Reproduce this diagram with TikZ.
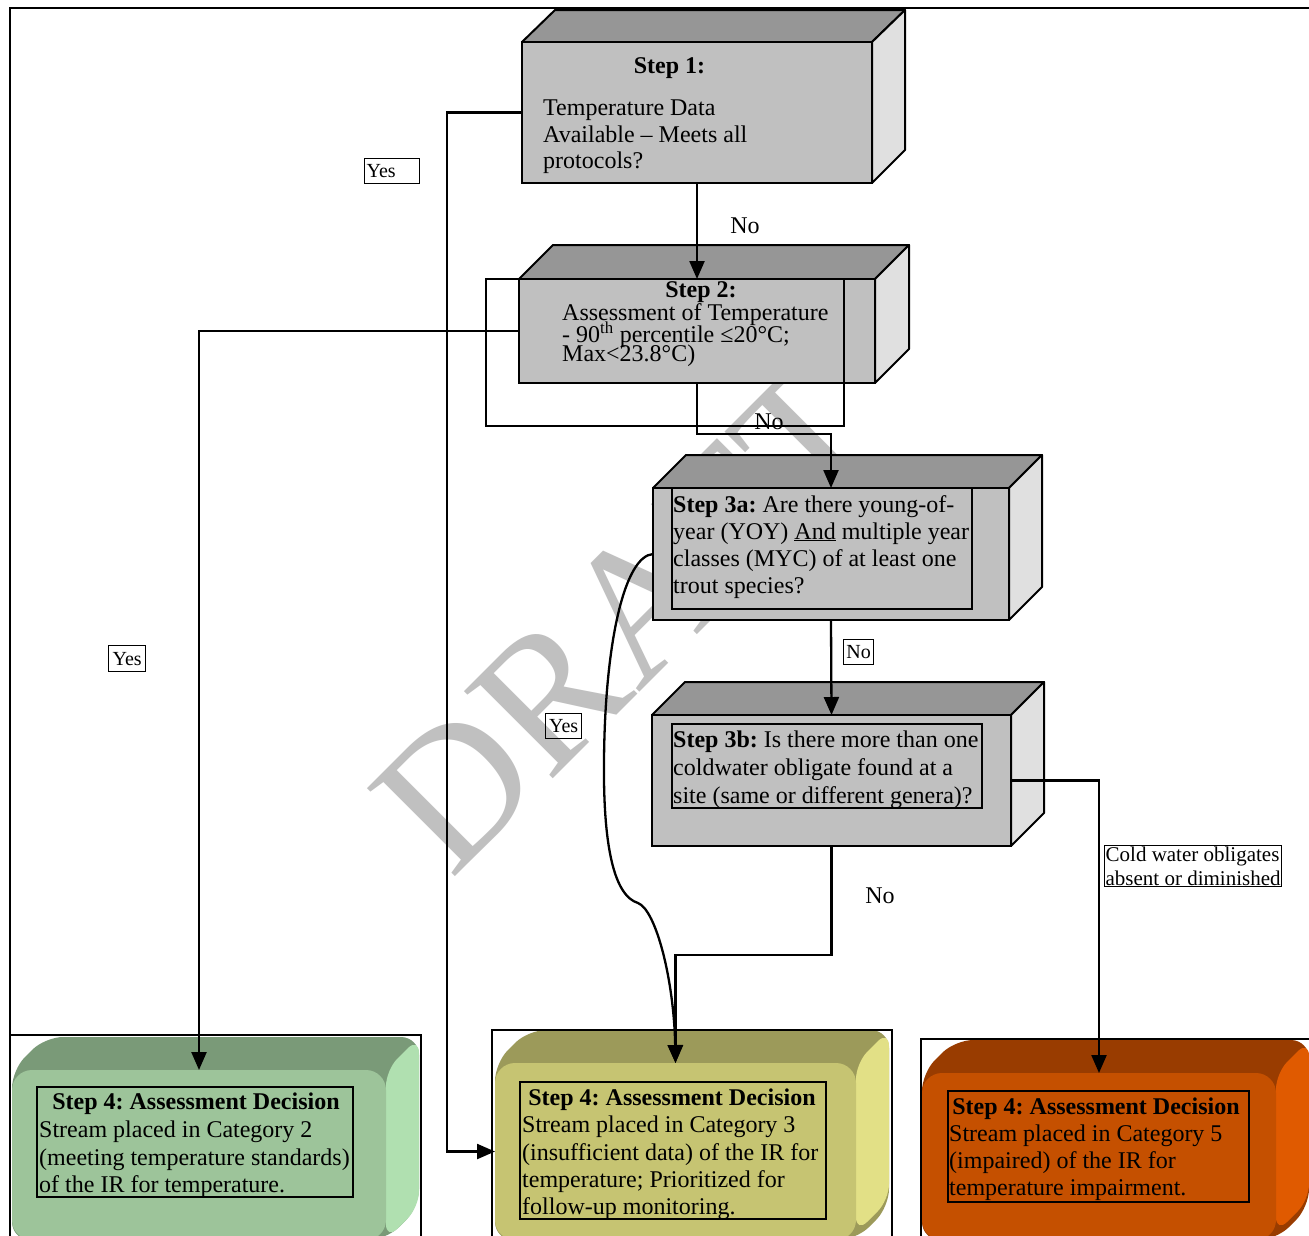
\documentclass[tikz,border=0pt]{standalone}
\usepackage{fontspec}
\setmainfont{Liberation Serif}
\usetikzlibrary{arrows.meta}
\frenchspacing
\definecolor{frontg}{RGB}{192,192,192}
\definecolor{topg}{RGB}{150,150,150}
\definecolor{sideg}{RGB}{224,224,224}
\definecolor{gfront}{RGB}{157,196,154}
\definecolor{gtop}{RGB}{122,154,120}
\definecolor{gside}{RGB}{176,224,176}
\definecolor{yfront}{RGB}{198,196,114}
\definecolor{ytop}{RGB}{156,154,90}
\definecolor{yside}{RGB}{226,224,134}
\definecolor{ofront}{RGB}{197,80,0}
\definecolor{otop}{RGB}{153,60,0}
\definecolor{oside}{RGB}{224,90,0}
\definecolor{wmark}{RGB}{192,192,192}
\begin{document}
\frenchspacing
\begin{tikzpicture}[x=1pt,y=-1pt,
  txt/.style={font=\fontsize{24}{27}\selectfont, inner sep=0pt, anchor=base west},
  ttl/.style={font=\fontsize{24}{27}\selectfont\bfseries, inner sep=0pt, anchor=base},
  face/.style={draw=black, line width=2pt, line join=round},
  frontbox/.style={draw=black, fill=frontg, line width=2.8pt, inner sep=0pt, outer sep=0pt},
  roundfront/.style={rounded corners=20pt, inner sep=0pt, outer sep=0pt},
  conn/.style={draw=black, line width=2.3pt},
  arr/.style={conn, -{Triangle[length=18pt,width=15pt]}},
  lblbox/.style={draw=black, line width=1.3pt, font=\fontsize{20}{24}\selectfont, inner sep=1pt, anchor=north west},
  thinbox/.style={draw=black, line width=1.3pt},
  nolbl/.style={font=\fontsize{24}{27}\selectfont, inner sep=0pt},
]
\clip (0,0) rectangle (1309,1235);
\fill[white] (0,0) rectangle (1309,1235);

% watermark
\node[font=\fontsize{190}{190}\selectfont, text=wmark, rotate=45, inner sep=0pt] (wm) at (628,616) {DRAFT};

% outer frame
\draw[line width=2pt] (1315,8) -- (10,8) -- (10,1240);

% Step 1
\filldraw[face, fill=topg] (522,42) -- (555,10) -- (905,10) -- (872,42) -- cycle;
\filldraw[face, fill=sideg] (872,42) -- (905,10) -- (905,150) -- (872,183) -- cycle;
\node[frontbox, line width=2pt, minimum width=350pt, minimum height=141pt] (s1) at (697,112.5) {};
\node[ttl] (s1t) at (669.5,73) {Step 1:};
\node[txt] (s1a) at (543,115) {Temperature Data};
\node[txt] (s1b) at (543,142) {Available – Meets all};
\node[txt] (s1c) at (543,168) {protocols?};

% Step 2
\filldraw[face, fill=topg] (519,279) -- (553,245) -- (909,245) -- (875,279) -- cycle;
\filldraw[face, fill=sideg] (875,279) -- (909,245) -- (909,349) -- (875,383) -- cycle;
\node[frontbox, minimum width=356pt, minimum height=104pt] (s2) at (697,331) {};
\draw[thinbox] (486,279) rectangle (844,426);
\node[ttl] (s2t) at (701,297) {Step 2:};
\node[txt] (s2a) at (562,320.5) {Assessment of Temperature};
\node[txt] (s2b) at (562,342.5) {- 90\textsuperscript{th} percentile ≤20°C;};
\node[txt] (s2c) at (562,361.5) {Max<23.8°C)};

% Step 3a
\filldraw[face, fill=topg] (653,488) -- (686,455) -- (1042,455) -- (1009,488) -- cycle;
\filldraw[face, fill=sideg] (1009,488) -- (1042,455) -- (1042,587) -- (1009,620) -- cycle;
\node[frontbox, minimum width=356pt, minimum height=132pt] (s3a) at (831,554) {};
\draw[thinbox] (672,488) rectangle (972,609);
\node[txt] (s3a1) at (673,512) {\textbf{Step 3a:} Are there young-of-};
\node[txt] (s3a2) at (673,539) {year (YOY) \underline{And} multiple year};
\node[txt] (s3a3) at (673,566) {classes (MYC) of at least one};
\node[txt] (s3a4) at (673,593) {trout species?};

% Step 3b
\filldraw[face, fill=topg] (652,715) -- (685,682) -- (1044,682) -- (1011,715) -- cycle;
\filldraw[face, fill=sideg] (1011,715) -- (1044,682) -- (1044,813) -- (1011,846) -- cycle;
\node[frontbox, minimum width=359pt, minimum height=131pt] (s3b) at (831.5,780.5) {};
\draw[thinbox] (672,724) rectangle (982,808);
\node[txt] (s3b1) at (673,747) {\textbf{Step 3b:} Is there more than one};
\node[txt] (s3b2) at (673,775) {coldwater obligate found at a};
\node[txt] (s3b3) at (673,803) {site (same or different genera)?};

% Step 4 green
\fill[gtop, rounded corners=18pt] (12,1240) -- (12,1070) -- (45,1037) -- (419,1037) -- (419,1207) -- (386,1240) -- cycle;
\fill[gside, rounded corners=16pt] (386,1070) -- (419,1037) -- (419,1207) -- (386,1240) -- cycle;
\node[roundfront, fill=gfront, minimum width=374pt, minimum height=170pt] (gb) at (199,1155) {};
\draw[thinbox] (10,1035) rectangle (421,1250);
\draw[thinbox] (37,1087) rectangle (353,1197);
\node[ttl] (gbt) at (196,1109) {Step 4: Assessment Decision};
\node[txt] (gb1) at (39,1137) {Stream placed in Category 2};
\node[txt] (gb2) at (39,1165) {(meeting temperature standards)};
\node[txt] (gb3) at (39,1192) {of the IR for temperature.};

% Step 4 yellow
\fill[ytop, rounded corners=18pt] (495,1240) -- (495,1063) -- (528,1030) -- (889,1030) -- (889,1207) -- (856,1240) -- cycle;
\fill[yside, rounded corners=16pt] (856,1063) -- (889,1030) -- (889,1200) -- (856,1233) -- cycle;
\node[roundfront, fill=yfront, minimum width=361pt, minimum height=177pt] (yb) at (675.5,1151.5) {};
\draw[thinbox] (492,1030) rectangle (892,1250);
\draw[thinbox] (520,1082) rectangle (826,1219);
\node[ttl] (ybt) at (672,1105) {Step 4: Assessment Decision};
\node[txt] (yb1) at (522,1132) {Stream placed in Category 3};
\node[txt] (yb2) at (522,1160) {(insufficient data) of the IR for};
\node[txt] (yb3) at (522,1187) {temperature; Prioritized for};
\node[txt] (yb4) at (522,1214) {follow-up monitoring.};

% Step 4 orange
\fill[otop, rounded corners=18pt] (922,1240) -- (922,1073) -- (955,1040) -- (1309,1040) -- (1309,1207) -- (1276,1240) -- cycle;
\fill[oside, rounded corners=16pt] (1276,1073) -- (1309,1040) -- (1309,1200) -- (1276,1233) -- cycle;
\node[roundfront, fill=ofront, minimum width=354pt, minimum height=167pt] (ob) at (1099,1156.5) {};
\draw[thinbox] (921,1039) rectangle (1330,1250);
\draw[thinbox] (948,1091) rectangle (1249,1202);
\node[ttl] (obt) at (1096,1114) {Step 4: Assessment Decision};
\node[txt] (ob1) at (949,1141) {Stream placed in Category 5};
\node[txt] (ob2) at (949,1168) {(impaired) of the IR for};
\node[txt] (ob3) at (949,1195) {temperature impairment.};

% connectors
\draw[arr] (s1.south) -- (s2.north);
\draw[arr] (s1.west) -- ++(-75,0) |- (yb.west);
\draw[arr] (s2.west) -- ++(-319,0) -| (gb.north);
\draw[arr] (s2.south) -- ++(0,51) -| (s3a.north);
\draw[arr] (s3a.south) -- (s3b.north);
\draw[arr] (s3a.west) .. controls (625,556) and (605,640) .. (604,760)
   .. controls (603,850) and (615,896) .. (638,903)
   .. controls (656,910) and (674,980) .. (yb.north);
\draw[arr] (s3b.south) -- ++(0,109) -| (yb.north);
\draw[arr] (s3b.east) -- ++(88,0) -| (ob.north);

% labels
\node[nolbl] (no1) at (745,226) {No};
\node[nolbl] (no2) at (769,422) {No};
\node[nolbl] (no4) at (880,896) {No};
\node[lblbox, minimum width=55pt, minimum height=25pt, text width=51pt] (yes1) at (364,158) {Yes};
\node[lblbox, minimum width=37pt, minimum height=26pt] (yes2) at (108,645) {Yes};
\node[lblbox, minimum width=36pt, minimum height=25pt] (yes3) at (545,713) {Yes};
\node[lblbox, minimum width=30pt, minimum height=25pt] (no3) at (843,639) {No};
\node[lblbox, align=left, font=\fontsize{21}{24}\selectfont] (cold) at (1104,845) {Cold water obligates\\absent or diminished};
\end{tikzpicture}
\end{document}
